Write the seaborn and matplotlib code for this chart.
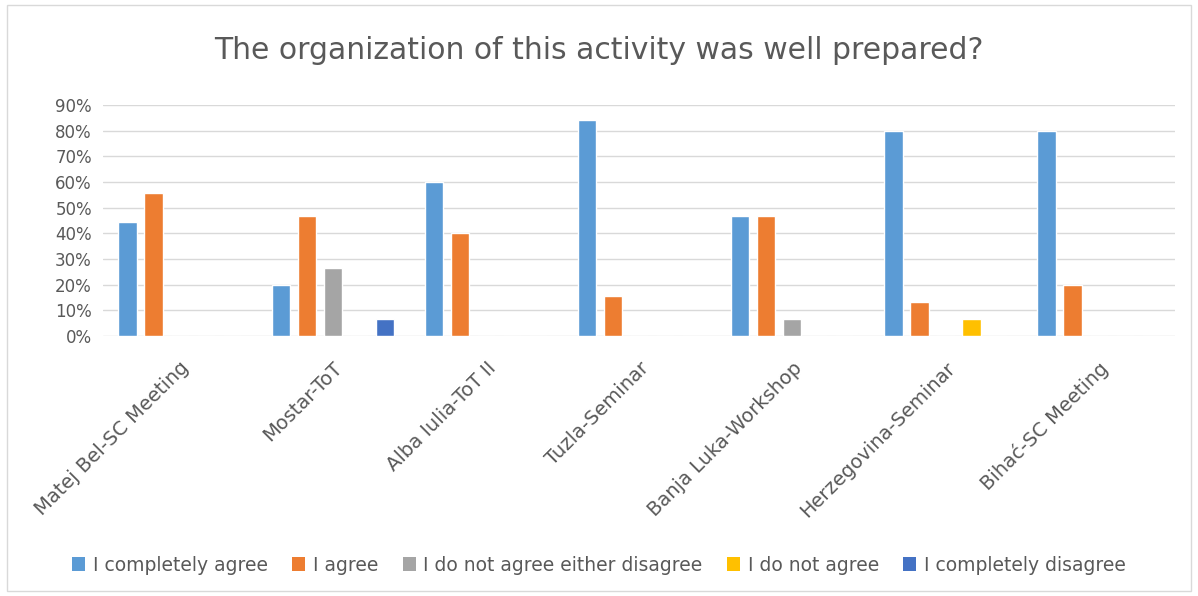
import numpy as np
import pandas as pd
import matplotlib
matplotlib.use("Agg")
import matplotlib.pyplot as plt
import seaborn as sns
from matplotlib.patches import Patch, Rectangle

events = ["Matej Bel-SC Meeting", "Mostar-ToT", "Alba Iulia-ToT II", "Tuzla-Seminar",
          "Banja Luka-Workshop", "Herzegovina-Seminar", "Bihać-SC Meeting"]
responses = ["I completely agree", "I agree", "I do not agree either disagree",
             "I do not agree", "I completely disagree"]

completely_agree = [44.4, 20.0, 60.0, 84.2, 46.7, 80.0, 80.0]
agree = [55.6, 46.7, 40.0, 15.8, 46.7, 13.3, 20.0]
neither = [0, 26.7, 0, 0, 6.7, 0, 0]
not_agree = [0, 0, 0, 0, 0, 6.7, 0]
completely_disagree = [0, 6.7, 0, 0, 0, 0, 0]

colors = ["#5B9BD5", "#ED7D31", "#A5A5A5", "#FFC000", "#4472C4"]
text_color = "#595959"

series = [completely_agree, agree, neither, not_agree, completely_disagree]
rows = []
for resp, vals in zip(responses, series):
    for ev, v in zip(events, vals):
        rows.append({"event": ev, "response": resp, "value": v / 100})
df = pd.DataFrame(rows)

sns.set_style("white")
plt.rcParams["font.family"] = ["DejaVu Sans"]

fig = plt.figure(figsize=(11.98, 5.96), dpi=100)
ax = fig.add_axes([0.086, 0.436, 0.895, 0.388])

sns.barplot(data=df, x="event", y="value", hue="response", hue_order=responses,
            order=events, palette=colors, width=0.85, gap=0.3, ax=ax, legend=False,
            saturation=1)

ax.set_ylim(0, 0.9)
ax.set_yticks(np.arange(0, 0.91, 0.1))
ax.set_yticklabels([f"{int(round(t * 100))}%" for t in np.arange(0, 0.91, 0.1)],
                   color=text_color, fontsize=12)
ax.yaxis.grid(True, color="#D9D9D9", linewidth=1)
ax.set_axisbelow(True)
for s in ax.spines.values():
    s.set_visible(False)
ax.tick_params(axis="both", length=0)
ax.tick_params(axis="y", pad=8)
ax.tick_params(axis="x", pad=16)
ax.set_xlabel("")
ax.set_ylabel("")
ax.set_xticks(range(len(events)))
ax.set_xticklabels(events, rotation=45, ha="right", rotation_mode="anchor",
                   color=text_color, fontsize=14)

fig.text(0.5, 0.915, "The organization of this activity was well prepared?",
         ha="center", va="center", fontsize=21.5, color=text_color)

handles = [Patch(facecolor=c, edgecolor="none") for c in colors]
fig.legend(handles, responses, loc="center", bbox_to_anchor=(0.5, 0.052), ncol=5,
           frameon=False, fontsize=13.5, handlelength=0.7, handleheight=0.7,
           handletextpad=0.4, columnspacing=1.3, labelcolor=text_color)

fig.patches.append(Rectangle((0.006, 0.008), 0.988, 0.984, transform=fig.transFigure,
                             fill=False, edgecolor="#D9D9D9", linewidth=1))

fig.savefig("out.png", dpi=100, facecolor="white")
